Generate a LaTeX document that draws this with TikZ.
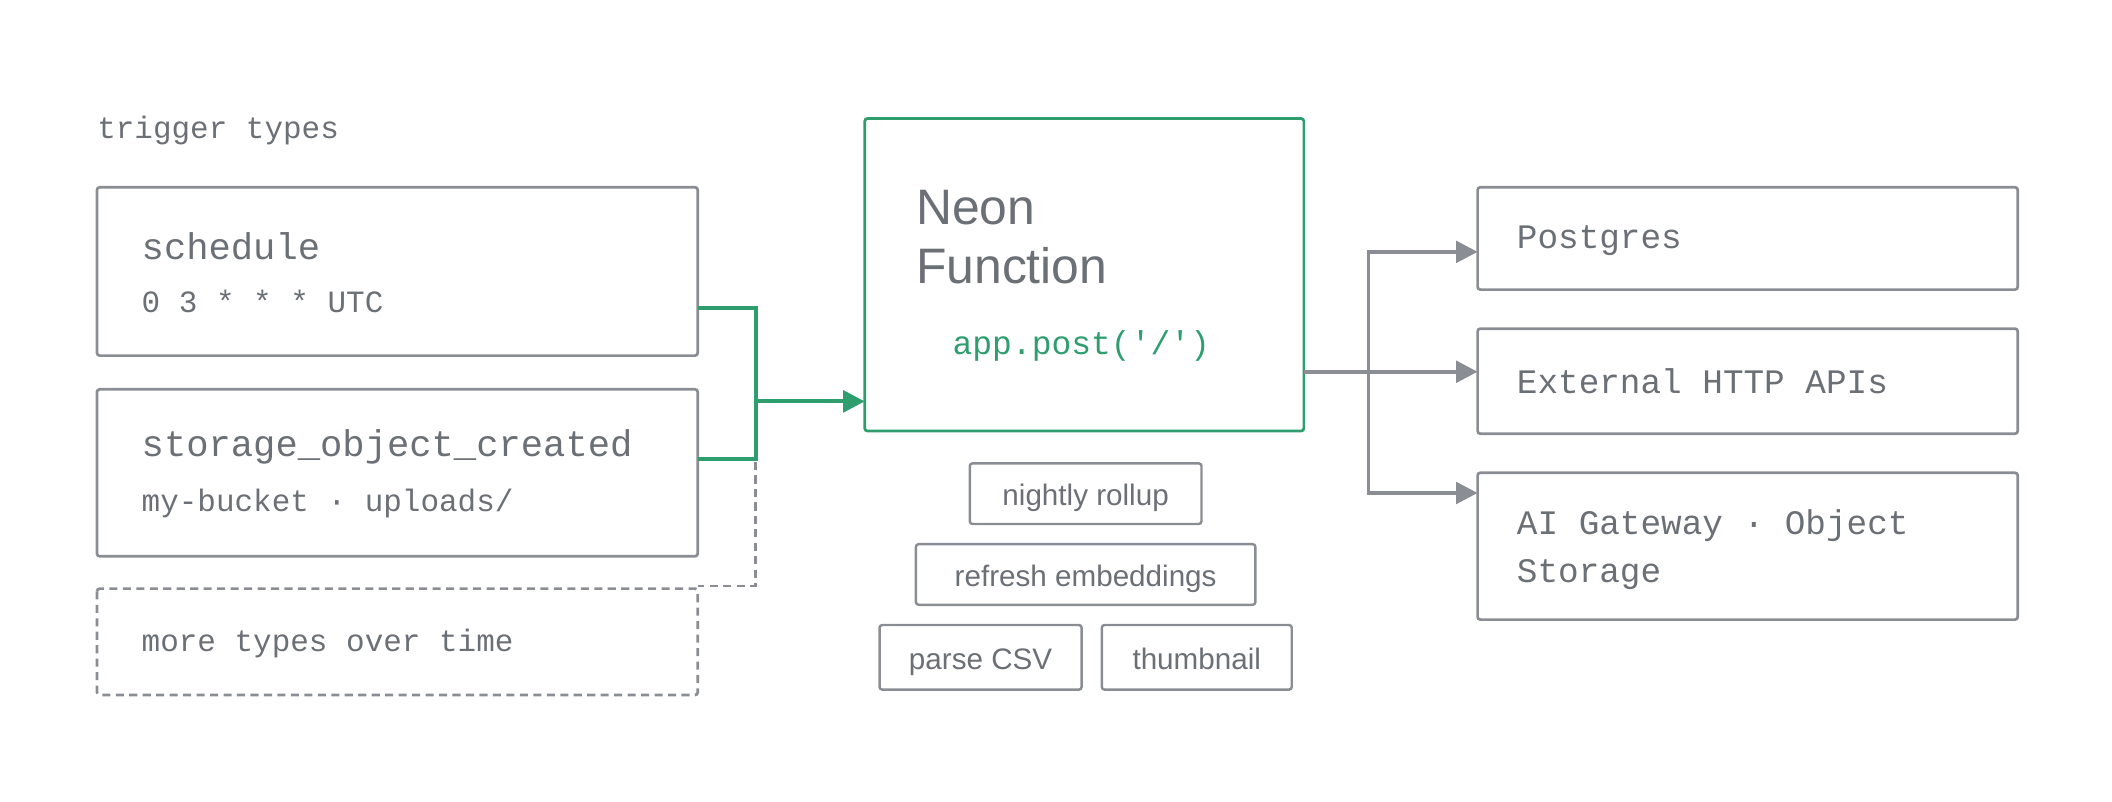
\documentclass[tikz,border=0pt]{standalone}
\usepackage{fontspec}
\setmainfont{Liberation Sans}
\setmonofont{Liberation Mono}
\usetikzlibrary{arrows.meta}
\definecolor{tg}{HTML}{6B6F76}
\definecolor{bg}{HTML}{8A8D93}
\definecolor{gr}{HTML}{2E9E6E}
\begin{document}
\begin{tikzpicture}[x=1pt,y=-1pt,
  box/.style={draw=bg,line width=2pt,rounded corners=2pt},
  tag/.style={draw=bg,line width=1.8pt,rounded corners=2pt,text=tg,font=\fontsize{22}{26}\selectfont,inner sep=0pt,text height=21pt,text depth=3pt},
  mono/.style={anchor=west,text=tg,inner sep=0pt},
  gline/.style={draw=gr,line width=3pt},
  oline/.style={draw=bg,line width=2.8pt},
  arr/.style={-{Triangle[length=16pt,width=16pt]}}]
\useasboundingbox (0,0) rectangle (1568,595);
\node[mono,font=\ttfamily\fontsize{23}{26}\selectfont] (lbl) at (72,97) {trigger types};
\draw[box] (72,139) rectangle (518,264);
\node[mono,font=\ttfamily\fontsize{27.6}{30}\selectfont] (s1) at (105,183) {schedule};
\node[mono,font=\ttfamily\fontsize{23}{26}\selectfont] (s1b) at (105,224) {0 3 * * * UTC};
\draw[box] (72,289) rectangle (518,413);
\node[mono,font=\ttfamily\fontsize{27.6}{30}\selectfont] (s2) at (105,332) {storage\_object\_created};
\node[mono,font=\ttfamily\fontsize{23}{26}\selectfont] (s2b) at (105,374) {my-bucket · uploads/};
\draw[box,dashed,dash pattern=on 6pt off 4pt] (72,437) rectangle (518,516);
\node[mono,font=\ttfamily\fontsize{23}{26}\selectfont] (s3) at (105,478) {more types over time};
\draw[draw=gr,line width=2pt,rounded corners=2pt] (642,88) rectangle (968,320);
\coordinate (nf) at (642,298);
\node[mono,font=\fontsize{37}{44}\selectfont,align=left,anchor=north west] (neon) at (680,141) {Neon\\Function};
\node[mono,text=gr,font=\ttfamily\fontsize{24.5}{28}\selectfont] (app) at (707,257) {app.post('/')};
\node[tag,minimum width=172pt,minimum height=45pt] (t1) at (806,366.5) {nightly rollup};
\node[tag,minimum width=252pt,minimum height=45pt] (t2) at (806,426.5) {refresh embeddings};
\node[tag,minimum width=150pt,minimum height=48pt] (t3) at (728,488) {parse CSV};
\node[tag,minimum width=141pt,minimum height=48pt] (t4) at (888.5,488) {thumbnail};
\draw[box] (1097,139) rectangle (1498,215);
\node[mono,font=\ttfamily\fontsize{25.5}{28}\selectfont] (p) at (1126,179) {Postgres};
\draw[box] (1097,244) rectangle (1498,322);
\node[mono,font=\ttfamily\fontsize{25.5}{28}\selectfont] (e) at (1126,283) {External HTTP APIs};
\draw[box] (1097,351) rectangle (1498,460);
\node[mono,font=\ttfamily\fontsize{25.5}{36}\selectfont,align=left] (ai) at (1126,408) {AI Gateway · Object\\Storage};
\coordinate (a1) at (518,229); \coordinate (a2) at (518,341);
\coordinate (j) at (561,298); \coordinate (a3) at (518,435);
\draw[gline] (a1) -| (561,341) -- (a2);
\draw[gline,arr] (j) -- (nf);
\draw[oline,line width=2pt,dash pattern=on 6pt off 4pt] (561,343) -- (561,435) -- (a3);
\coordinate (o) at (968,276); \coordinate (pi) at (1097,187);
\coordinate (ei) at (1097,276); \coordinate (ai2) at (1097,366);
\draw[oline,arr] (o) -- (ei);
\draw[oline] (1016,366) -- (1016,187);
\draw[oline,arr] (1015,187) -- (pi);
\draw[oline,arr] (1015,366) -- (ai2);
\end{tikzpicture}
\end{document}
